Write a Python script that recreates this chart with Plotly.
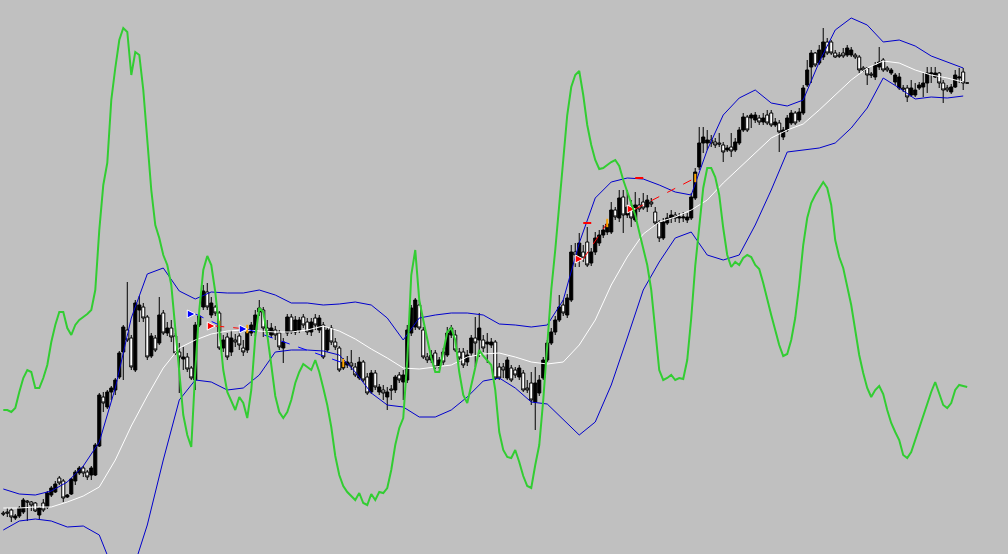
import plotly.graph_objects as go

# ---- price candles (one per bar) ----
opens = [87,88,90,82,84,88,99,98,97,85,
         97,93,105,108,122,119,103,106,119,127,
         132,128,125,125,154,203,193,208,210,223,
         248,270,262,230,290,293,283,244,262,257,
         287,267,272,264,248,241,243,232,220,275,
         293,308,285,293,287,252,263,248,260,264,
         252,250,267,268,288,290,272,265,270,267,
         252,267,283,268,270,283,278,268,282,270,
         275,250,272,258,252,232,235,237,233,222,
         238,223,208,227,208,210,203,211,210,225,
         218,220,267,273,295,270,243,240,247,233,
         248,245,265,265,248,248,238,247,262,260,
         260,256,255,258,233,233,222,232,230,223,
         227,212,217,198,207,222,240,257,268,280,
         295,285,300,348,342,348,358,337,348,357,
         365,368,368,390,382,403,385,393,380,395,
         398,393,398,388,378,362,377,382,385,382,
         382,380,382,402,433,457,457,460,458,457,
         455,450,453,450,457,470,483,482,480,482,
         478,485,487,475,477,463,470,477,487,480,
         487,515,533,547,537,543,558,558,547,545,
         547,545,545,545,543,532,532,526,523,533,
         540,532,527,518,512,512,512,505,505,512,
         513,517,526,523,527,517,512,508,513,522,
         528,517]
highs = [89,92,92,86,94,102,100,99,98,93,
         101,109,114,119,124,121,106,122,130,134,
         134,130,134,157,207,208,210,214,222,249,
         275,318,265,300,304,297,285,267,265,303,
         290,278,280,267,257,253,247,234,278,287,
         315,317,303,295,289,265,267,270,266,270,
         260,270,278,290,300,293,280,277,274,270,
         262,286,286,284,283,286,282,282,286,285,
         278,273,275,262,254,242,244,250,237,243,
         240,227,230,230,216,215,213,215,225,228,
         230,275,295,302,300,273,247,250,250,243,
         252,273,275,270,252,252,250,265,283,287,
         265,267,262,260,237,237,243,235,233,235,
         230,220,228,233,225,243,260,272,284,305,
         300,306,355,357,367,355,373,352,368,370,
         375,380,398,393,410,410,410,400,408,402,
         407,405,402,393,380,382,387,390,388,387,
         388,387,407,432,473,473,470,465,462,467,
         458,455,467,462,473,487,485,487,488,485,
         487,490,490,482,480,473,485,490,489,492,
         515,540,550,548,555,572,562,560,550,548,
         552,555,553,547,545,534,533,528,538,553,
         542,534,532,527,527,515,515,520,517,518,
         527,533,533,533,528,520,515,516,530,532,
         532,517]
lows = [84,83,78,80,82,86,79,89,88,80,
        88,91,103,107,115,98,102,105,115,125,
        123,120,120,124,153,188,191,200,205,221,
        220,258,230,228,278,278,240,242,248,255,
        265,264,258,245,207,230,228,220,210,273,
        290,290,282,284,250,248,240,244,253,250,
        244,247,264,264,284,263,264,262,260,250,
        237,264,266,265,267,272,265,264,270,267,
        241,248,255,250,228,230,232,230,223,220,
        218,205,206,210,205,200,190,200,207,217,
        200,217,264,270,270,241,237,237,231,231,
        235,243,262,248,238,232,234,244,233,243,
        248,237,252,220,220,222,220,218,222,220,
        208,207,195,170,204,220,238,255,265,278,
        284,282,298,333,333,338,333,334,345,354,
        362,365,366,380,378,367,382,373,378,388,
        390,388,393,375,358,360,375,377,378,377,
        378,377,380,400,430,447,450,453,452,453,
        438,448,443,448,455,468,468,472,477,475,
        475,475,473,473,448,460,468,475,475,478,
        485,513,517,533,535,540,545,545,542,542,
        542,543,543,541,527,528,515,522,520,530,
        528,528,525,515,510,508,498,503,503,510,
        503,507,517,522,512,497,508,506,512,517,
        510,517]
closes = [86,87,83,84,92,100,98,95,89,92,
          90,107,112,116,117,102,105,121,128,132,
          127,123,132,155,205,197,208,212,220,247,
          273,260,233,297,295,282,243,264,250,285,
          267,272,263,247,243,243,231,222,275,284,
          309,293,297,287,252,260,243,262,258,255,
          248,268,275,285,292,272,268,272,265,253,
          258,283,268,280,280,275,268,278,275,282,
          243,270,258,253,230,238,238,234,225,238,
          220,207,227,213,213,207,208,210,223,220,
          225,270,292,300,272,243,240,245,233,240,
          238,267,272,250,242,235,245,262,257,272,
          252,258,258,222,222,230,240,220,225,232,
          210,210,200,217,220,240,257,268,280,293,
          287,302,348,345,357,342,335,348,362,365,
          370,376,390,383,402,385,393,382,395,391,
          392,400,396,377,362,378,382,385,382,383,
          383,383,403,428,457,463,460,457,455,456,
          448,452,449,458,470,483,470,485,485,478,
          482,477,475,478,468,470,482,487,477,488,
          512,530,547,535,550,558,547,547,543,544,
          544,552,550,543,530,530,525,525,535,538,
          530,530,530,525,523,511,503,512,510,515,
          517,527,527,527,517,510,510,513,525,523,
          517,517]

# ---- Bollinger bands, read every 4th bar ----
band_bars = [0,4,8,12,16,20,24,28,32,36,40,44,48,52,56,60,64,68,72,76,
             80,84,88,92,96,100,104,108,112,116,120,124,128,132,136,140,
             144,148,152,156,160,164,168,172,176,180,184,188,192,196,200,
             204,208,212,216,220,224,228,232,236,240]
band_upper = [111,106,105,109,118,134,158,212,282,326,332,309,301,308,307,307,
              310,305,297,297,295,296,298,295,282,260,282,285,287,287,285,276,
              275,273,275,300,357,402,418,422,421,415,408,405,450,485,502,510,
              497,494,500,538,570,582,575,558,560,554,544,538,532]
band_middle = [92,92,93,93,98,104,113,140,174,204,232,252,260,266,269,270,
               269,268,268,270,274,269,261,251,242,232,231,233,235,243,246,247,
               243,238,236,238,255,280,315,343,366,378,383,390,400,417,432,447,
               462,470,476,490,505,520,532,539,537,530,525,522,518]
band_lower = [70,79,81,79,73,74,65,25,25,75,140,200,220,218,210,212,
              225,248,250,250,249,245,228,207,195,193,183,183,190,203,219,222,
              212,198,196,180,165,178,215,262,310,338,362,368,345,340,345,375,
              410,448,450,452,457,472,492,522,512,501,503,502,504]

# ---- green oscillator, one value per bar ----
oscillator = [190,190,188,192,208,222,230,228,212,212,
              222,235,258,275,288,288,272,265,275,280,
              283,286,290,310,370,415,437,500,532,560,
              572,568,525,548,545,510,460,410,375,362,
              345,335,315,270,225,185,165,153,230,290,
              330,344,335,308,270,230,208,198,190,203,
              197,182,210,263,292,288,265,235,204,188,
              182,188,200,217,228,236,233,230,240,228,
              212,195,173,144,125,114,108,104,100,107,
              97,95,106,100,108,107,112,130,155,172,
              182,240,325,350,300,280,260,242,228,228,
              248,268,272,260,228,205,197,215,235,250,
              244,239,235,210,168,150,143,142,150,138,
              124,114,112,135,155,200,260,310,350,392,
              440,485,513,525,529,505,475,455,440,431,
              432,435,438,440,434,420,408,397,385,368,
              352,335,310,270,230,220,222,225,220,222,
              221,240,282,334,375,412,432,432,423,405,
              372,345,333,338,335,342,345,343,335,331,
              317,300,285,270,255,244,246,260,282,315,
              355,382,397,405,412,418,412,395,360,343,
              332,315,295,270,245,227,212,203,210,214,
              206,190,177,168,160,145,142,148,160,173,
              185,198,208,218,207,195,192,197,210,215,
              214,213]

# ---- trade history ----
trade_open_bar = [48, 53, 61, 145, 158]
trade_open_price = [286, 274, 271, 341, 391]
trade_side = ["buy", "sell", "buy", "sell", "sell"]
trade_close_bar = [54, 61, 85, 151, 173]
trade_close_price = [275, 271, 237, 377, 422]
level_bar_from = [145, 158]
level_bar_to = [147, 160]
level_price = [377, 422]

bars = list(range(len(opens)))

fig = go.Figure()

fig.add_trace(go.Scatter(x=bars, y=oscillator, mode="lines", yaxis="y2",
                         line=dict(color="#32CD32", width=2), hoverinfo="skip"))

fig.add_trace(go.Scatter(x=band_bars, y=band_upper, mode="lines",
                         line=dict(color="#0000CC", width=1), hoverinfo="skip"))
fig.add_trace(go.Scatter(x=band_bars, y=band_lower, mode="lines",
                         line=dict(color="#0000CC", width=1), hoverinfo="skip"))
fig.add_trace(go.Scatter(x=band_bars, y=band_middle, mode="lines",
                         line=dict(color="#FFFFFF", width=1), hoverinfo="skip"))

fig.add_trace(go.Candlestick(
    x=bars, open=opens, high=highs, low=lows, close=closes,
    increasing=dict(line=dict(color="#000000", width=1), fillcolor="#000000"),
    decreasing=dict(line=dict(color="#000000", width=1), fillcolor="#FFFFFF"),
    whiskerwidth=0, hoverinfo="skip"))

for ob, op, side, cb, cp in zip(trade_open_bar, trade_open_price, trade_side,
                                trade_close_bar, trade_close_price):
    col = "#0000FF" if side == "buy" else "#FF0000"
    fig.add_trace(go.Scatter(x=[ob, cb], y=[op, cp], mode="lines",
                             line=dict(color=col, width=1, dash="dash"),
                             hoverinfo="skip"))

for a, b, p in zip(level_bar_from, level_bar_to, level_price):
    fig.add_trace(go.Scatter(x=[a, b], y=[p, p], mode="lines",
                             line=dict(color="#FF0000", width=2), hoverinfo="skip"))

fig.add_trace(go.Scatter(x=trade_close_bar, y=trade_close_price, mode="markers",
                         marker=dict(symbol="line-ns", size=6,
                                     line=dict(color="#FFA500", width=2)),
                         hoverinfo="skip"))

for side, col in (("buy", "#0000FF"), ("sell", "#FF0000")):
    xs = [b for b, s in zip(trade_open_bar, trade_side) if s == side]
    ys = [p for p, s in zip(trade_open_price, trade_side) if s == side]
    fig.add_trace(go.Scatter(x=xs, y=ys, mode="markers",
                             marker=dict(symbol="arrow-right", size=8, color=col,
                                         line=dict(color="#FFFFFF", width=1)),
                             hoverinfo="skip"))

fig.update_layout(
    width=1008, height=554,
    margin=dict(l=0, r=0, t=0, b=0),
    paper_bgcolor="#C0C0C0", plot_bgcolor="#C0C0C0",
    showlegend=False,
    boxgap=0.15, boxgroupgap=0.1,
    xaxis=dict(visible=False, range=[-0.825, 251.2], rangeslider=dict(visible=False)),
    yaxis=dict(visible=False, range=[46, 600]),
    yaxis2=dict(visible=False, range=[46, 600], overlaying="y"),
)

fig.write_html(
    "out.html",
    config={"displayModeBar": False},
    post_script="document.body.style.margin='0';document.body.style.overflow='hidden';",
)
